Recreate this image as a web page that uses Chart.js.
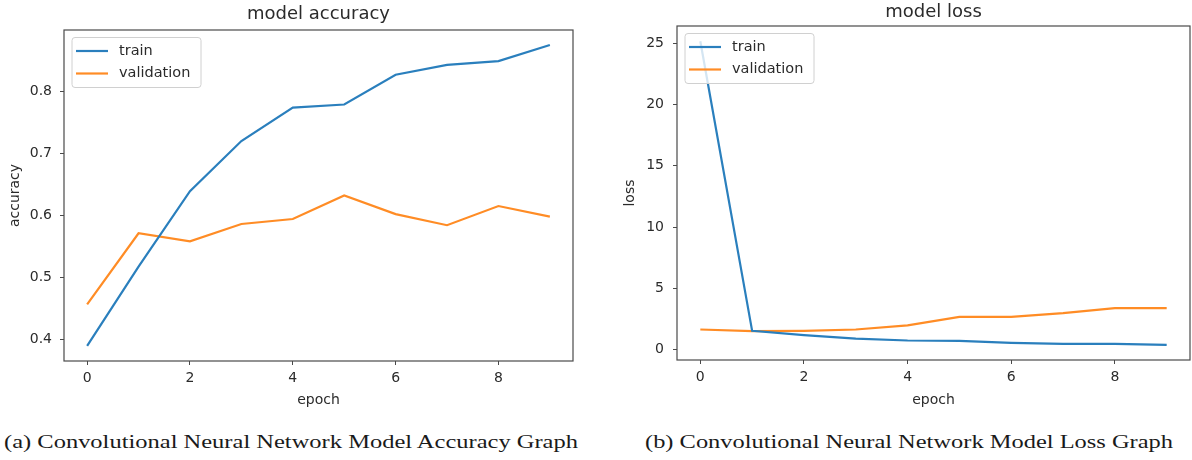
<!DOCTYPE html>
<html>
<head>
<meta charset="utf-8">
<title>CNN accuracy and loss</title>
<script src="https://cdn.jsdelivr.net/npm/chart.js@4.4.1/dist/chart.umd.min.js"></script>
<style>
  body { margin: 0; background: #fff; width: 1192px; height: 460px; overflow: hidden; position: relative; }
  canvas { position: absolute; top: 0; }
  #accChart { left: 0; }
  #lossChart { left: 620px; }
  .caption {
    position: absolute;
    top: 431px;
    line-height: 21px;
    font-family: "Liberation Serif", "DejaVu Serif", serif;
    font-size: 19.5px;
    color: #1a1a1a;
    white-space: nowrap;
    transform-origin: 0 50%;
  }
</style>
</head>
<body>
<canvas id="accChart" width="600" height="420"></canvas>
<canvas id="lossChart" width="572" height="420"></canvas>
<div class="caption" id="capA" style="left:4px">(a) Convolutional Neural Network Model Accuracy Graph</div>
<div class="caption" id="capB" style="left:645px">(b) Convolutional Neural Network Model Loss Graph</div>

<script>
// data
const epochs = [0, 1, 2, 3, 4, 5, 6, 7, 8, 9];
const accTrain = [0.389, 0.517, 0.639, 0.720, 0.774, 0.779, 0.827, 0.843, 0.849, 0.875];
const accVal   = [0.456, 0.571, 0.558, 0.586, 0.594, 0.632, 0.602, 0.584, 0.615, 0.598];
const lossTrain = [25.15, 1.55, 1.20, 0.92, 0.76, 0.73, 0.57, 0.49, 0.49, 0.41];
const lossVal   = [1.66, 1.52, 1.55, 1.66, 2.00, 2.69, 2.69, 2.99, 3.40, 3.40];

const xTicks = [0, 2, 4, 6, 8];
const accTicks = [0.4, 0.5, 0.6, 0.7, 0.8];
const lossTicks = [0, 5, 10, 15, 20, 25];

const BLUE = '#2a7fbd';
const ORANGE = '#ff8c25';
const TEXT = '#2b2b2b';
const FRAME = '#4a4a4a';
const FONT = '"DejaVu Sans", sans-serif';

// matplotlib style autoscale: 5% margin on each side
function range(arrs) {
  const all = [].concat(...arrs);
  const lo = Math.min(...all), hi = Math.max(...all);
  const m = (hi - lo) * 0.05;
  return { min: lo - m, max: hi + m };
}

// full box round the plot plus an in-axes legend with a frame
const framePlugin = {
  id: 'frameAndLegend',
  afterDatasetsDraw(chart) {
    const { ctx, chartArea: a } = chart;
    ctx.save();
    ctx.strokeStyle = FRAME;
    ctx.lineWidth = 1.2;
    ctx.strokeRect(a.left, a.top, a.right - a.left, a.bottom - a.top);

    const x = a.left + 8, y = a.top + 7.5, w = 129, h = 50;
    ctx.beginPath();
    ctx.roundRect(x, y, w, h, 3);
    ctx.fillStyle = 'rgba(255,255,255,0.8)';
    ctx.fill();
    ctx.strokeStyle = '#d0d0d0';
    ctx.lineWidth = 1;
    ctx.stroke();

    ctx.font = '14.5px ' + FONT;
    ctx.textBaseline = 'middle';
    chart.data.datasets.forEach((ds, i) => {
      const ly = y + 13.5 + i * 22.5;
      ctx.strokeStyle = ds.borderColor;
      ctx.lineWidth = 2.2;
      ctx.beginPath();
      ctx.moveTo(x + 4, ly);
      ctx.lineTo(x + 36, ly);
      ctx.stroke();
      ctx.fillStyle = TEXT;
      ctx.fillText(ds.label, x + 47, ly);
    });
    ctx.restore();
  }
};

function makeChart(id, o) {
  const yr = range([o.train, o.val]);
  return new Chart(document.getElementById(id), {
    type: 'line',
    data: {
      datasets: [{
        label: 'train',
        data: o.train.map((v, i) => ({ x: epochs[i], y: v })),
        borderColor: BLUE,
        borderWidth: 2.2,
        pointRadius: 0,
        tension: 0
      }, {
        label: 'validation',
        data: o.val.map((v, i) => ({ x: epochs[i], y: v })),
        borderColor: ORANGE,
        borderWidth: 2.2,
        pointRadius: 0,
        tension: 0
      }]
    },
    options: {
      responsive: false,
      animation: false,
      devicePixelRatio: 1,
      layout: { padding: { left: 0, right: o.padRight, top: 0, bottom: 0 } },
      plugins: {
        legend: { display: false },
        tooltip: { enabled: false },
        title: {
          display: true,
          fullSize: false,
          text: o.title,
          color: TEXT,
          font: { family: FONT, size: 18, weight: 'normal' },
          padding: o.titlePad
        }
      },
      scales: {
        x: {
          type: 'linear',
          min: -0.45,
          max: 9.45,
          afterBuildTicks: s => { s.ticks = xTicks.map(v => ({ value: v })); },
          afterFit: s => { s.height = o.xAxisH; },
          grid: { drawOnChartArea: false, drawTicks: true, tickLength: 4, color: FRAME, lineWidth: 1 },
          border: { display: false },
          ticks: { color: TEXT, font: { family: FONT, size: 14 }, padding: 5, maxRotation: 0, autoSkip: false },
          title: { display: true, text: 'epoch', color: TEXT, font: { family: FONT, size: 14 }, padding: { top: 0, bottom: 11.6 } }
        },
        y: {
          type: 'linear',
          min: yr.min,
          max: yr.max,
          afterBuildTicks: s => { s.ticks = o.yTicks.map(v => ({ value: v })); },
          afterFit: s => { s.width = o.yAxisW; },
          grid: { drawOnChartArea: false, drawTicks: true, tickLength: 4, color: FRAME, lineWidth: 1 },
          border: { display: false },
          ticks: { color: TEXT, font: { family: FONT, size: 14 }, padding: o.yTickPad, callback: o.fmt },
          title: { display: true, text: o.yLabel, color: TEXT, font: { family: FONT, size: 14 }, padding: { top: o.yTitlePad, bottom: 0 } }
        }
      }
    },
    plugins: [framePlugin]
  });
}

makeChart('accChart', {
  title: 'model accuracy',
  yLabel: 'accuracy',
  train: accTrain,
  val: accVal,
  yTicks: accTicks,
  fmt: v => v.toFixed(1),
  padRight: 27,
  yAxisW: 64,
  xAxisH: 59,
  titlePad: { top: 4, bottom: 4.4 },
  yTickPad: 8,
  yTitlePad: 7
});

makeChart('lossChart', {
  title: 'model loss',
  yLabel: 'loss',
  train: lossTrain,
  val: lossVal,
  yTicks: lossTicks,
  fmt: v => String(v),
  padRight: 2,
  yAxisW: 57,
  xAxisH: 60,
  titlePad: { top: 1.2, bottom: 3.2 },
  yTickPad: 9,
  yTitlePad: 1.6
});

// stretch the captions to the width they take in the figure
[['capA', 574], ['capB', 528]].forEach(([id, target]) => {
  const el = document.getElementById(id);
  const w = el.getBoundingClientRect().width;
  el.style.transform = 'scaleX(' + (target / w).toFixed(4) + ')';
});
</script>
</body>
</html>
